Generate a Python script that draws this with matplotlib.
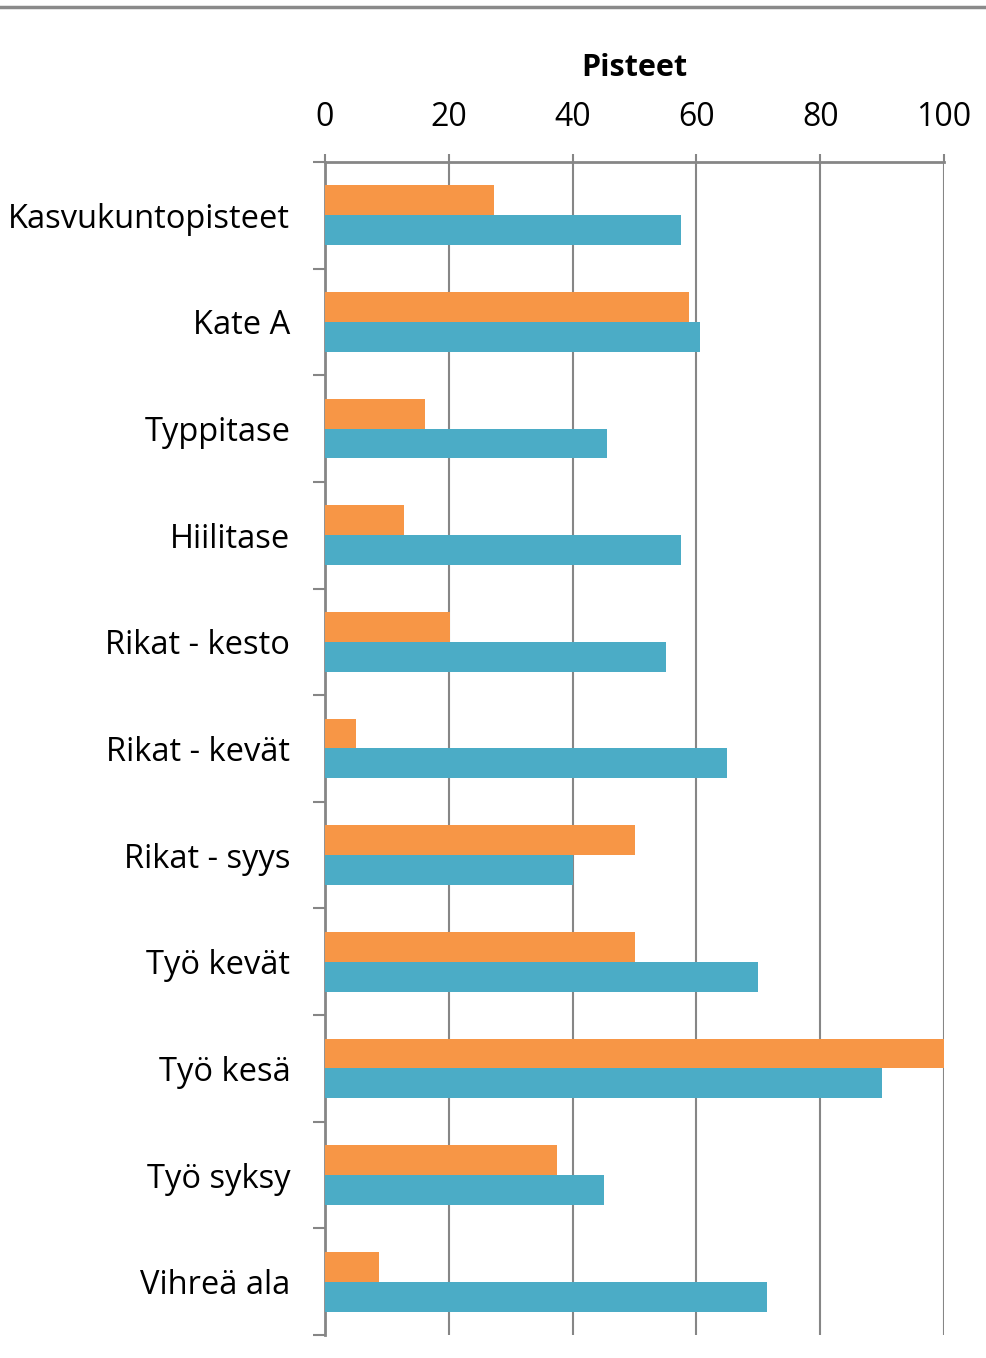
import matplotlib
matplotlib.use("Agg")
import matplotlib.pyplot as plt
from matplotlib.lines import Line2D
import numpy as np

categories = ["Kasvukuntopisteet", "Kate A", "Typpitase", "Hiilitase", "Rikat - kesto",
              "Rikat - kevät", "Rikat - syys", "Työ kevät", "Työ kesä", "Työ syksy", "Vihreä ala"]
orange_vals = [27.3, 58.8, 16.2, 12.8, 20.2, 5.0, 50.0, 50.0, 100.0, 37.4, 8.7]
blue_vals = [57.5, 60.6, 45.5, 57.5, 55.1, 64.9, 40.0, 70.0, 90.0, 45.0, 71.4]
xticks = [0, 20, 40, 60, 80, 100]

plt.rcParams['font.family'] = ['Open Sans', 'DejaVu Sans']

fig = plt.figure(figsize=(9.87, 13.58), dpi=100)
W, H = 987, 1358
ax = fig.add_axes([325 / W, 1 - 1335 / H, (944 - 325) / W, (1335 - 162) / H])

grid_c = "#868686"
y = np.arange(len(categories))
bh = 0.28
ax.barh(y - bh / 2, orange_vals, height=bh, color="#F79646", zorder=3)
ax.barh(y + bh / 2, blue_vals, height=bh, color="#4BACC6", zorder=3)

ax.set_xlim(0, 100)
ax.set_ylim(len(categories) - 0.5, -0.5)
ax.xaxis.tick_top()
ax.xaxis.set_label_position("top")
ax.set_xticks(xticks)
ax.set_xticklabels([str(t) for t in xticks], fontsize=23)
ax.set_xlabel("Pisteet", fontsize=22, fontweight="bold", labelpad=18)
ax.tick_params(axis="x", direction="out", length=6, width=1.5, color=grid_c, pad=14)

ax.set_yticks(y)
ax.set_yticklabels(categories, fontsize=23.5)
ax.tick_params(axis="y", which="major", length=0, pad=25)
ax.set_yticks(np.arange(len(categories) + 1) - 0.5, minor=True)
ax.tick_params(axis="y", which="minor", direction="out", length=9, width=1.5, color=grid_c)

ax.grid(axis="x", color=grid_c, linewidth=1.5, zorder=0)
for s in ["right", "bottom"]:
    ax.spines[s].set_visible(False)
for s in ["top", "left"]:
    ax.spines[s].set_color(grid_c)
    ax.spines[s].set_linewidth(2)

fig.add_artist(Line2D([0, 1], [1 - 7 / H, 1 - 7 / H], color="#8a8a8a", linewidth=2.5,
                      transform=fig.transFigure))

fig.savefig("out.png", dpi=100)
